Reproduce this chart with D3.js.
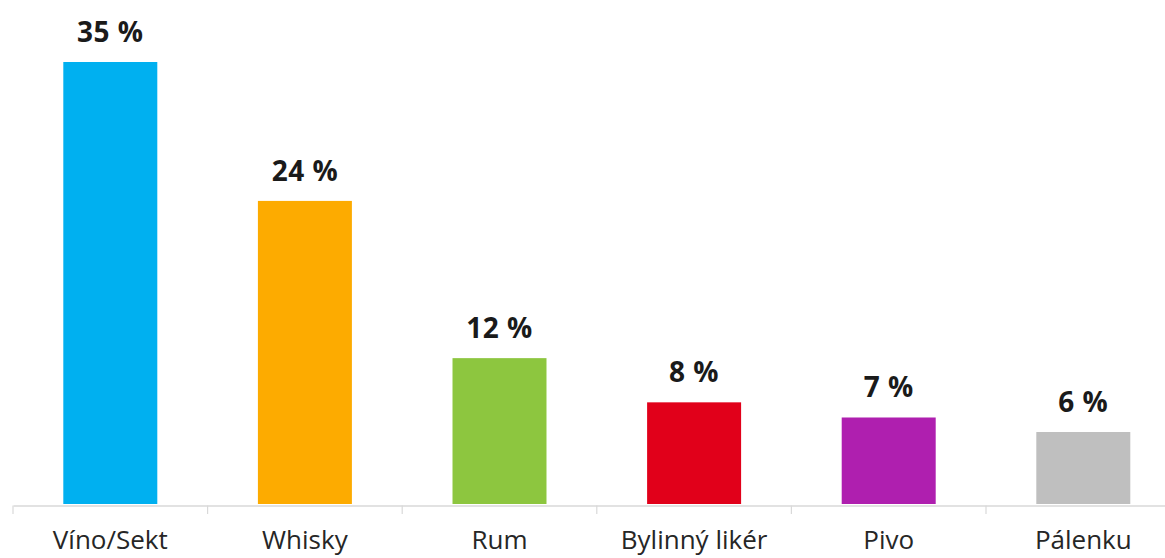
<!DOCTYPE html>
<html><head><meta charset="utf-8">
<script src="https://cdn.jsdelivr.net/npm/d3@7"></script>
<style>html,body{margin:0;padding:0;background:#fff;overflow:hidden}</style>
</head><body>
<svg id="c" width="1165" height="558"></svg>
<script>
const categories = ["Víno/Sekt", "Whisky", "Rum", "Bylinný likér", "Pivo", "Pálenku"];
const values = [35, 24, 11.55, 8.05, 6.85, 5.7];
const valueLabels = ["35 %", "24 %", "12 %", "8 %", "7 %", "6 %"];
const colors = ["#00B0F0", "#FDAB00", "#8DC63F", "#E1001A", "#AF1FAF", "#BFBFBF"];

const svg = d3.select("#c");
const base = 504;
const x = d3.scaleBand().domain(categories).range([13, 1180.6]).paddingInner(0.517).paddingOuter(0.2585);
const y = d3.scaleLinear().domain([0, 35]).range([base, 62]);

const axis = d3.axisBottom(x).tickSize(0).tickFormat("");
const gAxis = svg.append("g").attr("transform", `translate(0,${base + 1.5})`).call(axis);
gAxis.select(".domain").attr("stroke", "#d9d9d9").attr("stroke-width", 1.5);
const step = x.step();
const boundaries = categories.map((c, i) => x(c) - x.paddingOuter() * step);
svg.append("g").selectAll("line").data(boundaries).join("line")
  .attr("x1", d => d).attr("x2", d => d)
  .attr("y1", base + 1.5).attr("y2", base + 10)
  .attr("stroke", "#d9d9d9").attr("stroke-width", 1.2);

svg.append("g").selectAll("rect").data(values).join("rect")
  .attr("x", (d, i) => x(categories[i]))
  .attr("width", x.bandwidth())
  .attr("y", d => y(d))
  .attr("height", d => base - y(d))
  .attr("fill", (d, i) => colors[i]);

svg.append("g").selectAll("text").data(values).join("text")
  .attr("x", (d, i) => x(categories[i]) + x.bandwidth() / 2)
  .attr("y", d => y(d) - 20)
  .attr("text-anchor", "middle")
  .attr("font-family", "'Open Sans', sans-serif")
  .attr("font-weight", "bold")
  .attr("font-size", 28)
  .attr("letter-spacing", 0.5)
  .attr("fill", "#1a1a1a")
  .text((d, i) => valueLabels[i]);

svg.append("g").selectAll("text").data(categories).join("text")
  .attr("x", d => x(d) + x.bandwidth() / 2)
  .attr("y", 549)
  .attr("text-anchor", "middle")
  .attr("font-family", "'Open Sans', sans-serif")
  .attr("font-size", 26)
  .attr("fill", "#262626")
  .text(d => d);
</script>
</body></html>
